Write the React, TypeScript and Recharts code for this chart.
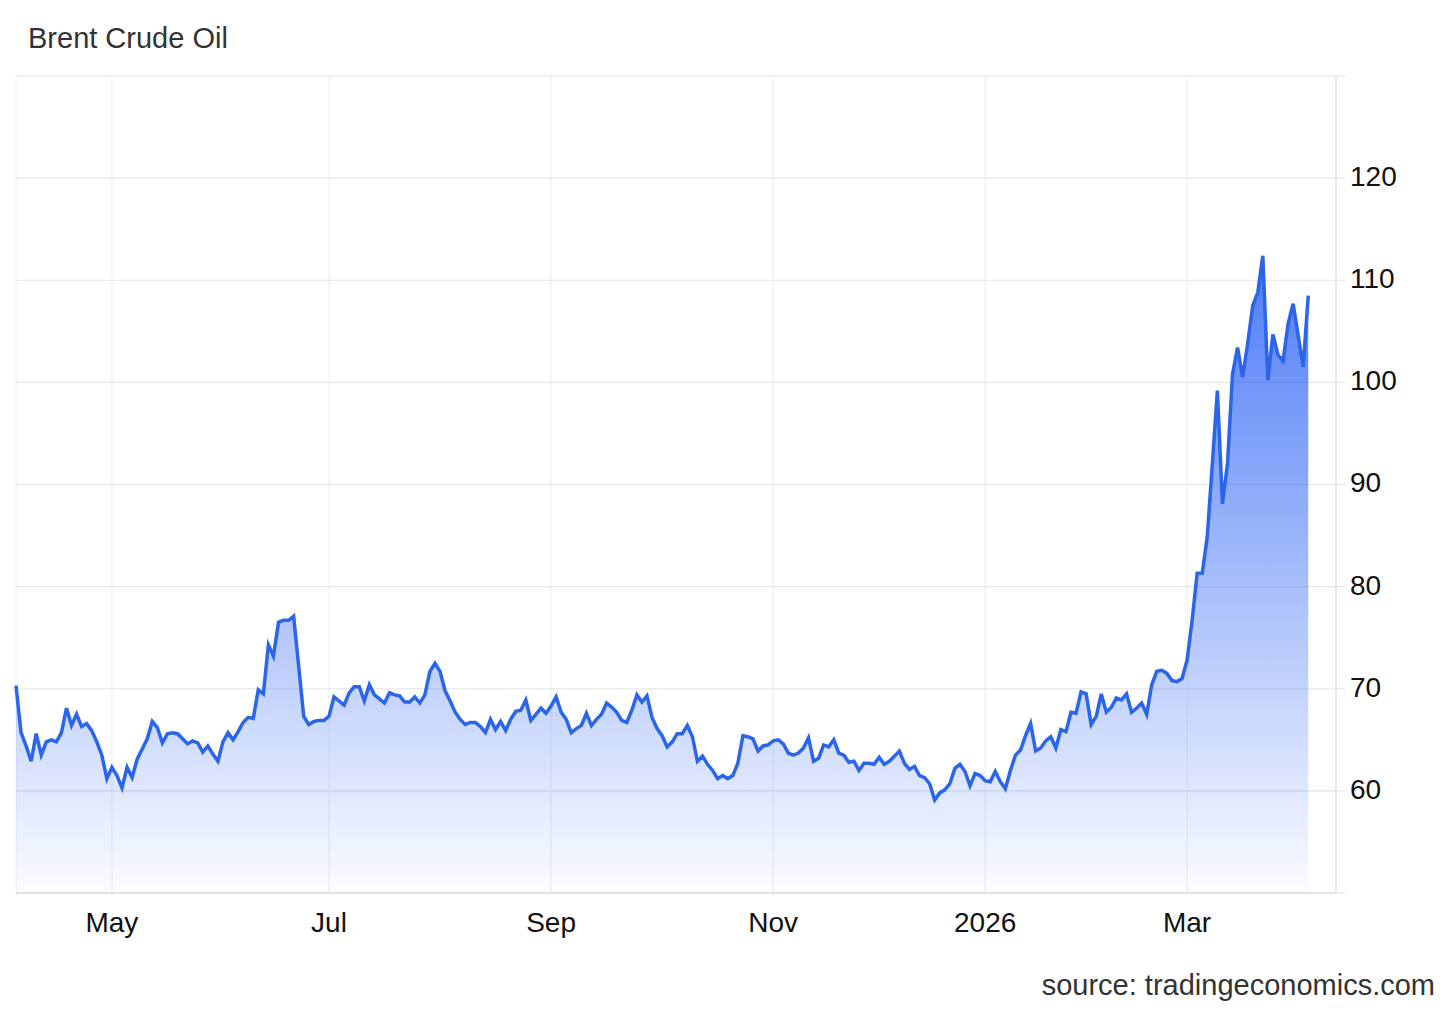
import React from "react";
import {
    AreaChart,
    Area,
    XAxis,
    YAxis,
    CartesianGrid,
} from "recharts";

// Brent, daily close (USD/bbl), early Apr 2025 -> early Apr 2026
const brentAprJun = [
    70.3, 65.7, 64.4, 62.9, 65.6, 63.5, 64.8, 65.0, 64.8, 65.7, 68.1, 66.4, 67.5, 66.3, 66.6,
    65.9, 64.8, 63.5, 61.2, 62.3, 61.5, 60.3, 62.3, 61.3, 63.1, 64.1, 65.1, 66.8, 66.2, 64.7,
    65.6, 65.7, 65.6, 65.1, 64.6, 64.9, 64.7, 63.8, 64.4, 63.6, 62.9, 64.8, 65.7, 65.0, 65.8,
];
const brentJunAug = [
    66.7, 67.2, 67.1, 69.9, 69.5, 74.3, 73.2, 76.5, 76.7, 76.7, 77.1, 72.2, 67.3, 66.5, 66.8,
    66.9, 66.9, 67.3, 69.2, 68.8, 68.4, 69.6, 70.2, 70.2, 68.8, 70.4, 69.4, 69.0, 68.6, 69.6,
    69.4, 69.3, 68.7, 68.7, 69.2, 68.6, 69.4, 71.7, 72.5, 71.7, 69.8, 68.8, 67.7, 67.0,
];
const brentAugOct = [
    66.5, 66.7, 66.7, 66.3, 65.7, 67.0, 66.0, 66.8, 65.9, 67.0, 67.8, 67.9, 68.9, 66.9, 67.5,
    68.1, 67.6, 68.3, 69.2, 67.7, 67.0, 65.7, 66.1, 66.4, 67.6, 66.4, 67.0, 67.5, 68.6, 68.2,
    67.7, 66.9, 66.7, 67.9, 69.4, 68.7, 69.3, 67.2, 66.1, 65.4, 64.3, 64.8, 65.6,
];
const brentOctDec = [
    65.6, 66.4, 65.3, 62.9, 63.4, 62.6, 62.0, 61.2, 61.5, 61.2, 61.5, 62.7, 65.4, 65.3, 65.1,
    63.9, 64.4, 64.5, 64.9, 65.0, 64.6, 63.7, 63.5, 63.7, 64.2, 65.2, 62.9, 63.2, 64.5, 64.3,
    65.0, 63.7, 63.5, 62.8, 62.9, 62.0, 62.7, 62.7, 62.6, 63.3, 62.6, 62.9, 63.4, 63.9,
];
const brentDecFeb = [
    62.7, 62.1, 62.4, 61.5, 61.3, 60.7, 59.1, 59.8, 60.1, 60.7, 62.2, 62.6, 61.9, 60.5, 61.7,
    61.5, 61.0, 60.9, 61.9, 60.9, 60.2, 62.0, 63.5, 64.0, 65.4, 66.6, 63.9, 64.2, 64.9, 65.3,
    64.2, 66.0, 65.8, 67.7, 67.6, 69.7, 69.5, 66.5, 67.3, 69.5, 67.7, 68.2, 69.1,
];
const brentFebApr = [
    68.9, 69.5, 67.7, 68.1, 68.6, 67.5, 70.4, 71.7, 71.8, 71.5, 70.8, 70.7, 71.0, 72.8, 76.7,
    81.3, 81.3, 84.9, 92.0, 99.2, 88.1, 92.0, 100.8, 103.4, 100.5, 103.8, 107.5, 108.8, 112.4,
    100.2, 104.7, 102.7, 102.1, 105.7, 107.7, 104.6, 101.5, 108.5,
];

// trading-day index of the first session of each labelled month
const monthTickIdx = [19, 62, 106, 150, 192, 232];
const monthTickLabels = ["May", "Jul", "Sep", "Nov", "2026", "Mar"];
const priceTicks = [50, 60, 70, 80, 90, 100, 110, 120, 130];

const prices = [
    ...brentAprJun,
    ...brentJunAug,
    ...brentAugOct,
    ...brentOctDec,
    ...brentDecFeb,
    ...brentFebApr,
];
const data = prices.map((price, i) => ({ i, price }));

const FONT = "'Liberation Sans', Arial, sans-serif";

export default function App() {
    return (
        <div style={{ position: "relative", width: 1456, height: 1009, background: "#fff" }}>
            <style>{"body{margin:0}"}</style>
            <AreaChart
                width={1456}
                height={1009}
                data={data}
                margin={{ top: 76, right: 0, left: 16, bottom: 0 }}
            >
                <defs>
                    <linearGradient id="brentFill" x1="0" y1="0" x2="0" y2="1">
                        <stop offset="0%" stopColor="#3f70f6" stopOpacity={0.92} />
                        <stop offset="100%" stopColor="#3f70f6" stopOpacity={0.02} />
                    </linearGradient>
                </defs>

                {/* vertical and horizontal grid have slightly different greys */}
                <CartesianGrid horizontal={false} stroke="#eceff2" strokeWidth={1.2} />
                <CartesianGrid vertical={false} stroke="#e4e4e4" strokeWidth={1.2} />

                <XAxis
                    dataKey="i"
                    type="number"
                    domain={[0, 261.5]}
                    ticks={monthTickIdx}
                    tickFormatter={(v) => monthTickLabels[monthTickIdx.indexOf(v)] ?? ""}
                    height={116}
                    tickLine={false}
                    tickSize={6}
                    tickMargin={13}
                    axisLine={{ stroke: "#dedede", strokeWidth: 1.5 }}
                    tick={{ fill: "#111", fontSize: 28, fontFamily: FONT }}
                />
                <YAxis
                    orientation="right"
                    type="number"
                    domain={[50, 130]}
                    ticks={priceTicks}
                    interval={0}
                    width={120}
                    tickSize={9}
                    tickMargin={5}
                    tickFormatter={(v) => (v === 50 || v === 130 ? "" : String(v))}
                    tickLine={{ stroke: "#e4e4e4", strokeWidth: 1.2 }}
                    axisLine={{ stroke: "#e4e4e4", strokeWidth: 1.5 }}
                    tick={{ fill: "#111", fontSize: 28, fontFamily: FONT, dy: -2 }}
                />

                <Area
                    type="linear"
                    dataKey="price"
                    stroke="#2b65ea"
                    strokeWidth={3.5}
                    fill="url(#brentFill)"
                    fillOpacity={1}
                    dot={false}
                    activeDot={false}
                    isAnimationActive={false}
                />
            </AreaChart>

            <svg
                width={1456}
                height={1009}
                style={{ position: "absolute", left: 0, top: 0, pointerEvents: "none" }}
            >
                <text x={28} y={48} fontSize={29} fill="#333" fontFamily={FONT}>
                    Brent Crude Oil
                </text>
                <text x={1435} y={995} fontSize={29} fill="#333" fontFamily={FONT} textAnchor="end">
                    source: tradingeconomics.com
                </text>
            </svg>
        </div>
    );
}
